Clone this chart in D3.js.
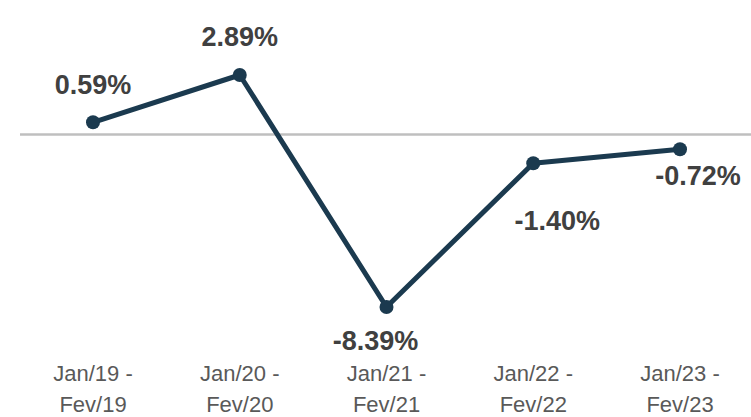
<!DOCTYPE html>
<html>
<head>
<meta charset="utf-8">
<script src="https://cdn.jsdelivr.net/npm/d3@7"></script>
<style>
  body { margin: 0; background: #fff; }
  svg { display: block; }
</style>
</head>
<body>
<script>
var periods = ["Jan/19 - Fev/19", "Jan/20 - Fev/20", "Jan/21 - Fev/21", "Jan/22 - Fev/22", "Jan/23 - Fev/23"];
var startLabels = ["Jan/19 -", "Jan/20 -", "Jan/21 -", "Jan/22 -", "Jan/23 -"];
var endLabels = ["Fev/19", "Fev/20", "Fev/21", "Fev/22", "Fev/23"];
var values = [0.59, 2.89, -8.39, -1.40, -0.72];

var width = 751, height = 417;

var svg = d3.select("body").append("svg")
    .attr("width", width)
    .attr("height", height);

var x = d3.scalePoint()
    .domain(periods)
    .range([93, 680]);

var y = d3.scaleLinear()
    .domain([-8.39, 2.89])
    .range([307, 75]);

// zero line
svg.append("line")
    .attr("x1", 20).attr("x2", width)
    .attr("y1", y(0)).attr("y2", y(0))
    .attr("stroke", "#bfbfbf")
    .attr("stroke-width", 2.5);

var data = periods.map(function(p, i) { return { period: p, value: values[i] }; });

var line = d3.line()
    .x(function(d) { return x(d.period); })
    .y(function(d) { return y(d.value); });

svg.append("path")
    .attr("d", line(data))
    .attr("fill", "none")
    .attr("stroke", "#1b3a4f")
    .attr("stroke-width", 5)
    .attr("stroke-linejoin", "round");

svg.selectAll("circle.pt")
    .data(data)
    .enter().append("circle")
    .attr("class", "pt")
    .attr("cx", function(d) { return x(d.period); })
    .attr("cy", function(d) { return y(d.value); })
    .attr("r", 7)
    .attr("fill", "#1b3a4f");

// data labels: offsets per point (dx, dy from point to baseline)
var labelOffsets = [[0, -28], [0, -29], [-11, 43], [24, 67], [18, 36]];

svg.selectAll("text.val")
    .data(data)
    .enter().append("text")
    .attr("class", "val")
    .attr("x", function(d, i) { return x(d.period) + labelOffsets[i][0]; })
    .attr("y", function(d, i) { return y(d.value) + labelOffsets[i][1]; })
    .attr("text-anchor", "middle")
    .attr("font-family", "'Liberation Sans', Arial, sans-serif")
    .attr("font-weight", "bold")
    .attr("font-size", "27px")
    .attr("fill", "#404040")
    .text(function(d) { return d.value.toFixed(2) + "%"; });

// category labels
var ticks = svg.selectAll("g.tick")
    .data(periods)
    .enter().append("g")
    .attr("class", "tick")
    .attr("transform", function(d) { return "translate(" + x(d) + ",0)"; });

ticks.append("text")
    .attr("y", 381)
    .attr("text-anchor", "middle")
    .attr("font-family", "'Liberation Sans', Arial, sans-serif")
    .attr("font-size", "22px")
    .attr("fill", "#595959")
    .text(function(d, i) { return startLabels[i]; });

ticks.append("text")
    .attr("y", 412)
    .attr("text-anchor", "middle")
    .attr("font-family", "'Liberation Sans', Arial, sans-serif")
    .attr("font-size", "22px")
    .attr("fill", "#595959")
    .text(function(d, i) { return endLabels[i]; });
</script>
</body>
</html>
